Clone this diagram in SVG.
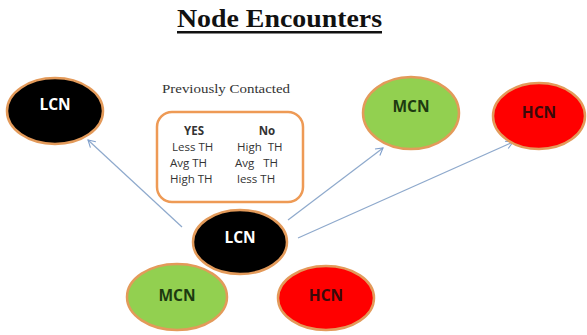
<svg xmlns="http://www.w3.org/2000/svg" width="587" height="335" viewBox="0 0 587 335">
<defs>
<marker id="arr" markerWidth="10" markerHeight="10" refX="8" refY="5" orient="auto" markerUnits="userSpaceOnUse">
<path d="M1,1 L8,5 L1,9" fill="none" stroke="#7F9FCC" stroke-width="1.1"/>
</marker>
</defs>
<style>
.node{stroke:#E39A5A;stroke-width:2.5}
.lbl{font-family:"Open Sans","Liberation Sans",sans-serif;font-weight:bold;font-size:15.5px;text-anchor:middle}
.cell{font-family:"Open Sans","Liberation Sans",sans-serif;font-size:11.5px;fill:#333}
.conn{stroke:#8EA9CC;stroke-width:1.2;fill:none;marker-end:url(#arr)}
</style>
<rect width="587" height="335" fill="#ffffff"/>
<g id="title">
<text x="279.5" y="27" font-family="Liberation Serif,serif" font-weight="bold" font-size="26" text-anchor="middle" fill="#111" textLength="205" lengthAdjust="spacingAndGlyphs">Node Encounters</text>
<rect x="177" y="31" width="205" height="2.5" fill="#111"/>
</g>
<g id="prev-label">
<text x="226" y="93" font-family="Liberation Serif,serif" font-size="13" text-anchor="middle" fill="#333" textLength="128" lengthAdjust="spacingAndGlyphs">Previously Contacted</text>
</g>
<g id="table">
<rect x="157" y="112" width="146" height="90" rx="15" ry="15" fill="#fff" stroke="#EE9A55" stroke-width="2.5"/>
<text x="194" y="135" class="cell" font-weight="bold" text-anchor="middle">YES</text>
<text x="267" y="135" class="cell" font-weight="bold" text-anchor="middle">No</text>
<text x="172" y="151" class="cell">Less TH</text>
<text x="170" y="167" class="cell">Avg TH</text>
<text x="170" y="183" class="cell">High TH</text>
<text x="237" y="151" class="cell" xml:space="preserve">High  TH</text>
<text x="235" y="167" class="cell" xml:space="preserve">Avg   TH</text>
<text x="237" y="183" class="cell">less TH</text>
</g>
<g id="connectors">
<line class="conn" x1="182" y1="227" x2="88" y2="140"/>
<line class="conn" x1="288" y1="220" x2="383" y2="148"/>
<line class="conn" x1="298" y1="238" x2="513" y2="142"/>
</g>
<g id="lcn-top">
<ellipse cx="55" cy="111" rx="48" ry="33" fill="#000" class="node"/>
<text x="55" y="110" class="lbl" fill="#fff">LCN</text>
</g>
<g id="mcn-top">
<ellipse cx="411" cy="113" rx="48" ry="36" fill="#92D050" class="node"/>
<text x="411" y="112" class="lbl" fill="#1D3A10">MCN</text>
</g>
<g id="hcn-top">
<ellipse cx="539" cy="116" rx="46" ry="33" fill="#FF0000" class="node"/>
<text x="539" y="118" class="lbl" fill="#3A0A0A">HCN</text>
</g>
<g id="lcn-center">
<ellipse cx="240" cy="242" rx="47" ry="32" fill="#000" class="node"/>
<text x="240" y="243" class="lbl" fill="#fff">LCN</text>
</g>
<g id="mcn-bottom">
<ellipse cx="177" cy="297" rx="50" ry="33" fill="#92D050" class="node"/>
<text x="177" y="301" class="lbl" fill="#1D3A10">MCN</text>
</g>
<g id="hcn-bottom">
<ellipse cx="326" cy="298" rx="48" ry="32" fill="#FF0000" class="node"/>
<text x="326" y="301" class="lbl" fill="#3A0A0A">HCN</text>
</g>
</svg>
